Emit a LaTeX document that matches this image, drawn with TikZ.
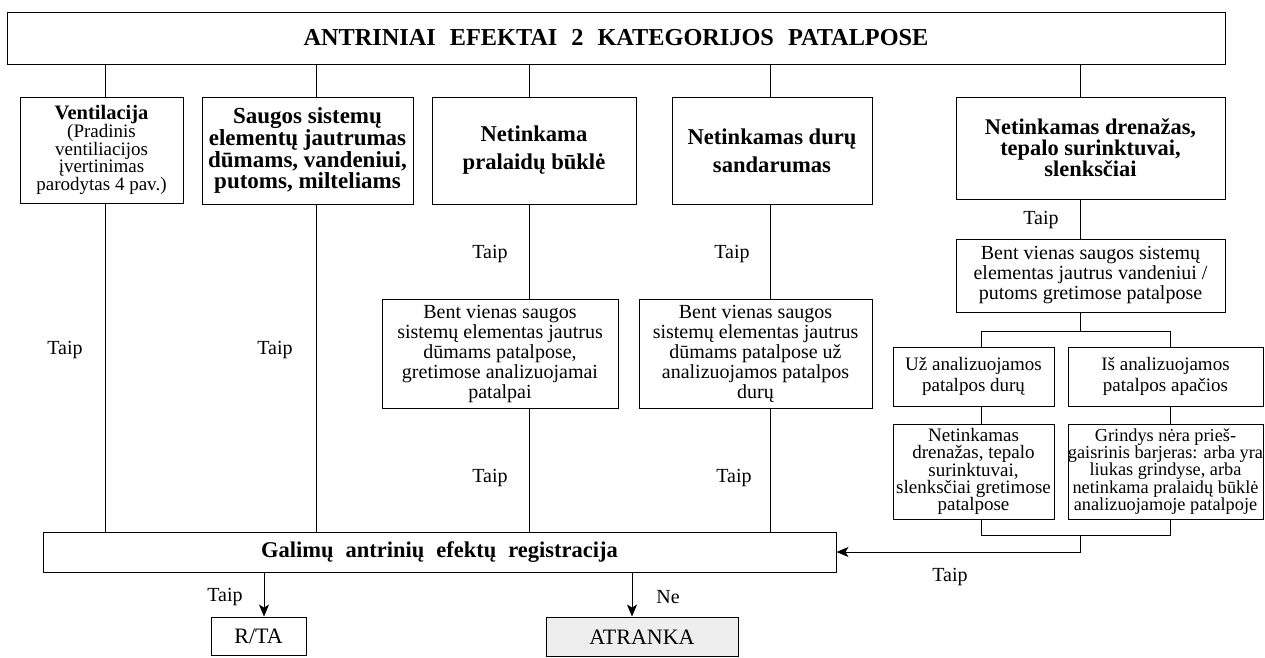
\documentclass[tikz,border=0pt]{standalone}
\usepackage{fontspec}
\setmainfont{Liberation Serif}
\usetikzlibrary{arrows.meta}
\tikzset{
  box/.style={draw, line width=0.9pt, align=center, inner sep=0pt},
  lbl/.style={font=\fontsize{20}{22}\selectfont, inner sep=0pt},
  ln/.style={line width=0.9pt},
  arr/.style={line width=0.9pt, -{Stealth[length=12pt,width=10pt,inset=3pt]}},
  nf/.style={font=\fontsize{20}{20}\selectfont},
  smallf/.style={font=\fontsize{19}{17.4}\selectfont},
}
\newcommand{\mybox}[7]{\node[box,#6,minimum width={(#4-#2)*1pt},minimum height={(#5-#3)*1pt}] (#1) at ({(#2+#4)/2},{(#3+#5)/2}) {#7};}
\begin{document}
\begin{tikzpicture}[x=1pt,y=-1pt]
\useasboundingbox (0,0) rectangle (1265,657);
% boxes
\mybox{title}{7}{12}{1225}{64}{font=\fontsize{24.3}{26}\selectfont\bfseries}{ANTRINIAI\hskip14pt EFEKTAI\hskip14pt 2\hskip14pt KATEGORIJOS\hskip14pt PATALPOSE}
\mybox{vent}{20}{97}{183}{203}{font=\fontsize{19}{17.7}\selectfont}{{\fontsize{20.5}{20}\selectfont\bfseries Ventilacija}\\(Pradinis\\ventiliacijos\\įvertinimas\\parodytas 4 pav.)}
\mybox{saug}{202}{97}{413}{204}{font=\fontsize{23}{20.5}\selectfont\bfseries}{Saugos sistemų\\elementų jautrumas\\dūmams, vandeniui,\\putoms, milteliams}
\mybox{pral}{432}{97}{636}{204}{font=\fontsize{22.6}{28}\selectfont\bfseries}{Netinkama\\pralaidų būklė}
\mybox{duru}{672}{97}{872}{204}{font=\fontsize{22.6}{28}\selectfont\bfseries}{Netinkamas durų\\sandarumas}
\mybox{dren}{956}{97}{1225}{199}{font=\fontsize{22.4}{21}\selectfont\bfseries}{Netinkamas drenažas,\\tepalo surinktuvai,\\slenksčiai}
\mybox{bentA}{382}{299}{618}{408}{nf}{Bent vienas saugos\\sistemų elementas jautrus\\dūmams patalpose,\\gretimose analizuojamai\\patalpai}
\mybox{bentB}{639}{299}{872}{408}{nf}{Bent vienas saugos\\sistemų elementas jautrus\\dūmams patalpose už\\analizuojamos patalpos\\durų}
\mybox{bentC}{956}{239}{1225}{312}{nf}{Bent vienas saugos sistemų\\elementas jautrus vandeniui /\\putoms gretimose patalpose}
\mybox{uz}{893}{347}{1054}{406}{font=\fontsize{19}{21.7}\selectfont}{Už analizuojamos\\patalpos durų}
\mybox{is}{1068}{347}{1263}{406}{font=\fontsize{19}{21.7}\selectfont}{Iš analizuojamos\\patalpos apačios}
\mybox{ndr}{893}{424}{1054}{519}{}{}
\node[smallf, align=center, inner sep=0pt] (ndrtxt) at (ndr.center) {Netinkamas\\drenažas, tepalo\\surinktuvai,\\slenksčiai gretimose\\patalpose};
\mybox{grind}{1068}{424}{1263}{519}{}{}
\node[font=\fontsize{18.3}{17.4}\selectfont, align=center, inner sep=0pt] (grindtxt) at (grind.center) {Grindys nėra prieš-\\gaisrinis barjeras: arba yra\\liukas grindyse, arba\\netinkama pralaidų būklė\\analizuojamoje patalpoje};
\mybox{gal}{43}{532}{836}{572}{font=\fontsize{22.5}{22}\selectfont\bfseries}{Galimų\hskip12pt antrinių\hskip12pt efektų\hskip12pt registracija}
\mybox{rta}{211}{617}{306}{655}{font=\fontsize{22}{22}\selectfont}{R/TA}
\mybox{atr}{546}{617}{738}{656.5}{fill=gray!13,font=\fontsize{22}{22}\selectfont}{ATRANKA}
% column coordinates
\coordinate (cA) at (105,0);
\coordinate (cB) at (316,0);
\coordinate (cC) at (529,0);
\coordinate (cD) at (770,0);
\coordinate (cE) at (1080,0);
\coordinate (cL) at (981,0);
\coordinate (cR) at (1170,0);
\coordinate (cT) at (264,0);
\coordinate (cN) at (632,0);
\coordinate (yTop) at (0,331);
\coordinate (yBot) at (0,535);
% connectors
\draw[ln] (title.south -| cA) -- (vent.north -| cA);
\draw[ln] (title.south -| cB) -- (saug.north -| cB);
\draw[ln] (title.south -| cC) -- (pral.north -| cC);
\draw[ln] (title.south -| cD) -- (duru.north -| cD);
\draw[ln] (title.south -| cE) -- (dren.north -| cE);
\draw[ln] (vent.south -| cA) -- (gal.north -| cA);
\draw[ln] (saug.south -| cB) -- (gal.north -| cB);
\draw[ln] (pral.south -| cC) -- (bentA.north -| cC);
\draw[ln] (bentA.south -| cC) -- (gal.north -| cC);
\draw[ln] (duru.south -| cD) -- (bentB.north -| cD);
\draw[ln] (bentB.south -| cD) -- (gal.north -| cD);
\draw[ln] (dren.south -| cE) -- (bentC.north -| cE);
\draw[ln] (bentC.south -| cE) -- (yTop -| cE);
\draw[ln] (uz.north -| cL) -- (yTop -| cL) -- (yTop -| cR) -- (is.north -| cR);
\draw[ln] (uz.south -| cL) -- (ndr.north -| cL);
\draw[ln] (is.south -| cR) -- (grind.north -| cR);
\draw[ln] (ndr.south -| cL) -- (yBot -| cL) -- (yBot -| cR) -- (grind.south -| cR);
\draw[arr] (yBot -| cE) |- (gal.east);
\draw[arr] (gal.south -| cT) -- (rta.north -| cT);
\draw[arr] (gal.south -| cN) -- (atr.north -| cN);
% labels
\node[lbl] (t1) at (65,350) {Taip};
\node[lbl] (t2) at (275,350) {Taip};
\node[lbl] (t3) at (490,254) {Taip};
\node[lbl] (t4) at (490,478) {Taip};
\node[lbl] (t5) at (732,254) {Taip};
\node[lbl] (t6) at (734,478) {Taip};
\node[lbl] (t7) at (1041,220) {Taip};
\node[lbl] (t8) at (950,577) {Taip};
\node[lbl] (t9) at (225,597) {Taip};
\node[lbl] (ne) at (668,597) {Ne};
\end{tikzpicture}
\end{document}
